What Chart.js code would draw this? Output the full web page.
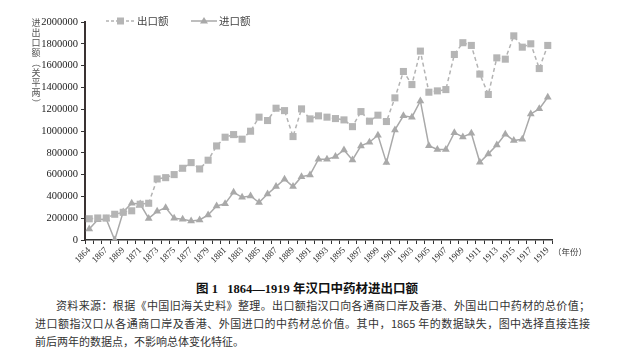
<!DOCTYPE html>
<html><head><meta charset="utf-8">
<script src="https://cdn.jsdelivr.net/npm/chart.js"></script>
<style>
html,body{margin:0;padding:0;background:#fff;width:641px;height:361px;overflow:hidden;}
#c{position:absolute;left:0;top:0;}
#cap{position:absolute;left:196px;top:281px;font-family:"Liberation Serif","Noto Sans CJK SC";font-weight:bold;font-size:12.5px;line-height:16px;color:#111;white-space:nowrap;}
.note{position:absolute;font-family:"Noto Sans CJK SC";font-size:11px;line-height:14px;color:#333;white-space:nowrap;}
.j{text-align:justify;text-align-last:justify;white-space:normal;}
</style>
</head><body>
<canvas id="c" width="641" height="272"></canvas>
<div id="cap">图 1&nbsp;&nbsp;&nbsp;1864—1919 年汉口中药材进出口额</div>
<div class="note j" style="left:56px;top:298px;width:534px;">资料来源：根据《中国旧海关史料》整理。出口额指汉口向各通商口岸及香港、外国出口中药材的总价值；</div>
<div class="note j" style="left:35px;top:316px;width:555px;">进口额指汉口从各通商口岸及香港、外国进口的中药材总价值。其中，1865 年的数据缺失，图中选择直接连接</div>
<div class="note" style="left:35px;top:334px;">前后两年的数据点，不影响总体变化特征。</div>
<script>
const years = [1864,1866,1867,1868,1869,1870,1871,1872,1873,1874,1875,1876,1877,1878,1879,1880,1881,1882,1883,1884,1885,1886,1887,1888,1889,1890,1891,1892,1893,1894,1895,1896,1897,1898,1899,1900,1901,1902,1903,1904,1905,1906,1907,1908,1909,1910,1911,1912,1913,1914,1915,1916,1917,1918,1919];
const exportValues = [195000,202000,202000,236000,254000,268000,328000,337000,560000,572000,600000,658000,710000,652000,732000,863000,943000,967000,925000,998000,1127000,1096000,1209000,1187000,949000,1203000,1111000,1139000,1127000,1114000,1102000,1040000,1178000,1090000,1145000,1087000,1304000,1546000,1426000,1733000,1356000,1368000,1380000,1702000,1810000,1785000,1522000,1335000,1671000,1659000,1873000,1769000,1800000,1573000,1785000];
const importValues = [100000,185000,192000,0,258000,337000,330000,198000,263000,297000,199000,190000,174000,184000,230000,312000,333000,438000,392000,404000,343000,422000,490000,557000,490000,581000,597000,741000,741000,765000,826000,735000,863000,897000,961000,710000,1010000,1139000,1127000,1276000,865000,830000,830000,985000,946000,980000,713000,790000,872000,971000,912000,925000,1157000,1203000,1310000];
const seriesNames = ['出口额','进口额'];
const yTitle = '进出口额（关平两）';
const yTicks = {min:0, max:2000000, step:200000};
const xUnit = '（年份）';

const extras = {
  id:'extras',
  afterDraw(chart){
    const ctx = chart.ctx;
    ctx.save();
    // legend
    const ly = 21;
    ctx.strokeStyle = '#b3b3b3'; ctx.lineWidth = 1.5; ctx.setLineDash([3,2]);
    ctx.beginPath(); ctx.moveTo(106,ly); ctx.lineTo(134,ly); ctx.stroke();
    ctx.setLineDash([]);
    ctx.fillStyle = '#b5b5b5'; ctx.fillRect(117,ly-3.5,7,7);
    ctx.strokeStyle = '#a9a9a9';
    ctx.beginPath(); ctx.moveTo(191,ly); ctx.lineTo(217,ly); ctx.stroke();
    ctx.fillStyle = '#a9a9a9';
    ctx.beginPath(); ctx.moveTo(204,ly-4); ctx.lineTo(208,ly+2.5); ctx.lineTo(200,ly+2.5); ctx.closePath(); ctx.fill();
    ctx.fillStyle = '#444'; ctx.font = '10.5px "Noto Sans CJK SC"'; ctx.textBaseline = 'middle'; ctx.textAlign = 'left';
    ctx.fillText(seriesNames[0], 137, ly);
    ctx.fillText(seriesNames[1], 219, ly);
    // x unit
    ctx.font = '8.5px "Noto Sans CJK SC"'; ctx.fillStyle = '#444';
    ctx.fillText(xUnit, 553, 252);
    // vertical y title
    ctx.font = '9px "Noto Sans CJK SC"'; ctx.fillStyle = '#555'; ctx.textAlign = 'center';
    const chars = Array.from(yTitle);
    let y = 23;
    chars.forEach(ch => {
      if (ch === '（' || ch === '）') {
        ctx.save(); ctx.translate(36, y); ctx.rotate(Math.PI/2); ctx.fillText(ch, 0, 0); ctx.restore();
      } else {
        ctx.fillText(ch, 36, y);
      }
      y += 10;
    });
    ctx.restore();
  }
};

new Chart(document.getElementById('c'), {
  type:'line',
  data:{labels: years.map(String), datasets:[
    {label:seriesNames[0], data:exportValues, borderColor:'#b3b3b3', borderDash:[4,3], borderWidth:1.5, pointStyle:'rect', pointRadius:5, pointBackgroundColor:'#b5b5b5', pointBorderColor:'#b5b5b5', pointBorderWidth:0, tension:0},
    {label:seriesNames[1], data:importValues, borderColor:'#a9a9a9', borderWidth:1.5, pointStyle:'triangle', pointRadius:4.5, pointBackgroundColor:'#a9a9a9', pointBorderColor:'#a9a9a9', pointBorderWidth:0, tension:0}
  ]},
  options:{
    responsive:false, animation:false, devicePixelRatio:1,
    layout:{padding:{top:22,right:89,left:0,bottom:0}},
    plugins:{legend:{display:false}, tooltip:{enabled:false}},
    scales:{
      x:{offset:true,
         grid:{display:true, drawOnChartArea:false, offset:true, tickLength:4, color:'#333', lineWidth:1},
         border:{color:'#333', width:1.5},
         ticks:{autoSkip:false, maxRotation:45, minRotation:45, font:{family:'Liberation Serif', size:9}, color:'#333', padding:1,
                callback:(v,i)=> i%2===0 ? String(years[i]) : ''},
         afterFit:s=>{s.height=32;}},
      y:{min:yTicks.min, max:yTicks.max,
         ticks:{stepSize:yTicks.step, font:{family:'Liberation Serif', size:10.5}, color:'#222', padding:3, callback:v=>String(v)},
         grid:{drawOnChartArea:false, tickLength:4, color:'#333'},
         border:{color:'#3a3232', width:2},
         afterFit:s=>{s.width=85;}}
    }
  },
  plugins:[extras]
});
</script>
</body></html>
